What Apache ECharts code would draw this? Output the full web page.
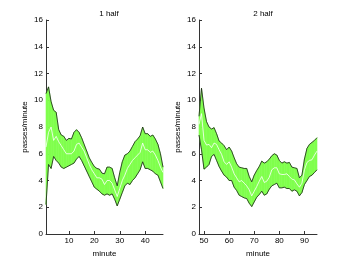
<!DOCTYPE html>
<html><head><meta charset="utf-8">
<script src="https://cdn.jsdelivr.net/npm/echarts@6/dist/echarts.min.js"></script>
<style>html,body{margin:0;padding:0;background:#fff}#c{width:350px;height:264px}</style>
</head><body><div id="c"></div>
<script>
const titles = ['1 half', '2 half'];
const yTicks = [0, 2, 4, 6, 8, 10, 12, 14, 16];
const xTicks1 = [10, 20, 30, 40];
const xTicks2 = [50, 60, 70, 80, 90];
const minutes1 = [1,2,3,4,5,6,7,8,9,10,11,12,13,14,15,16,17,18,19,20,21,22,23,24,25,26,27,28,29,30,31,32,33,34,35,36,37,38,39,40,41,42,43,44,45,46,47];
const upper1 = [10.5,11.0,9.9,9.25,9.1,7.8,7.4,7.3,7.0,7.15,7.1,7.6,7.8,7.6,7.2,6.7,6.2,5.7,5.35,5.05,4.9,4.85,4.55,4.5,5.0,5.0,4.9,4.2,3.6,4.6,5.4,5.9,6.0,6.2,6.55,6.9,7.1,7.35,8.0,7.5,7.5,7.3,7.4,7.1,6.7,6.0,5.0];
const mean1 = [6.5,7.6,8.0,7.0,7.3,6.9,6.6,6.3,6.0,6.0,6.0,6.2,6.7,6.8,6.5,6.2,5.7,5.2,4.8,4.5,4.2,4.2,4.1,3.7,4.0,4.0,3.8,3.3,2.8,3.4,4.0,4.4,4.9,5.2,5.5,5.7,5.9,6.1,6.8,6.3,6.3,6.1,6.2,5.9,5.5,5.0,4.6];
const lower1 = [2.2,5.2,4.9,5.8,5.5,5.3,5.0,4.9,5.0,5.1,5.2,5.3,5.6,5.8,5.5,5.1,4.7,4.3,3.9,3.5,3.35,3.2,3.0,2.9,3.0,2.9,3.0,2.6,2.1,2.6,3.1,3.6,3.8,3.7,4.0,4.2,4.5,4.8,5.4,4.9,4.9,4.8,4.7,4.5,4.4,3.9,3.4];
const minutes2 = [48,49,50,51,52,53,54,55,56,57,58,59,60,61,62,63,64,65,66,67,68,69,70,71,72,73,74,75,76,77,78,79,80,81,82,83,84,85,86,87,88,89,90,91,92,93,94,95];
const upper2 = [8.8,10.9,9.4,8.4,8.0,7.85,7.95,7.5,6.95,6.8,6.6,6.3,6.5,6.2,5.7,5.25,5.0,4.95,4.9,4.9,4.3,3.9,4.4,4.75,5.05,5.45,5.3,5.4,5.6,5.85,6.0,5.9,5.5,5.3,5.4,5.3,5.35,5.0,4.95,4.9,4.2,4.4,5.6,6.4,6.7,6.85,7.0,7.2];
const mean2 = [8.2,9.0,7.0,6.65,6.7,6.45,6.8,6.7,6.3,5.95,5.4,5.2,5.4,5.0,4.5,4.2,3.9,4.0,3.8,3.6,3.3,2.85,3.2,3.55,3.95,4.3,3.85,3.95,4.25,4.8,4.95,4.95,4.5,4.45,4.45,4.5,4.3,4.1,4.05,3.75,3.5,3.8,4.8,5.35,5.5,5.55,5.9,6.2];
const lower2 = [7.4,6.3,4.85,5.0,5.2,5.8,5.95,5.5,5.05,4.7,4.4,4.25,4.0,4.0,3.5,3.25,2.9,2.8,2.7,2.65,2.3,2.05,2.4,2.75,2.95,3.2,2.9,3.0,3.35,3.6,3.7,3.8,3.45,3.45,3.5,3.4,3.4,3.2,3.3,3.2,2.85,3.1,3.7,4.0,4.3,4.4,4.6,4.8];

const FONT = 'Liberation Sans';
const FILL = '#80ff4d';
const EDGE = '#1a1a1a';
const AX = '#333333';

function pairs(xs, ys) { return xs.map((x, i) => [x, ys[i]]); }

function xAxisFor(idx, xs, ticks) {
  return {
    gridIndex: idx, type: 'value', min: xs[0], max: xs[xs.length - 1],
    name: 'minute', nameLocation: 'middle', nameGap: 15,
    nameTextStyle: { fontFamily: FONT, fontSize: 8, color: '#000' },
    axisLine: { show: true, onZero: false, lineStyle: { color: AX, width: 1 } },
    axisTick: { show: true, inside: true, length: 3, customValues: ticks, lineStyle: { color: AX } },
    axisLabel: { customValues: ticks, fontFamily: FONT, fontSize: 8, color: '#000', margin: 3 },
    splitLine: { show: false }
  };
}
function yAxisFor(idx) {
  return {
    gridIndex: idx, type: 'value', min: yTicks[0], max: yTicks[yTicks.length - 1], interval: 2,
    name: 'passes/minute', nameLocation: 'middle', nameGap: 17,
    nameTextStyle: { fontFamily: FONT, fontSize: 8, color: '#000' },
    axisLine: { show: true, onZero: false, lineStyle: { color: AX, width: 1 } },
    axisTick: { show: true, inside: true, length: 3, lineStyle: { color: AX } },
    axisLabel: { fontFamily: FONT, fontSize: 8, color: '#000', margin: 3 },
    splitLine: { show: false }
  };
}
function seriesFor(idx, xs, up, mid, lo) {
  const band = xs.map((x, i) => [x, up[i], lo[i]]);
  return [
    {
      type: 'custom', xAxisIndex: idx, yAxisIndex: idx, data: band, silent: true, z: 1,
      encode: { x: 0, y: [1, 2] },
      renderItem: function (params, api) {
        const i = params.dataIndex;
        if (i >= band.length - 1) return null;
        const a = band[i], b = band[i + 1];
        const pts = [api.coord([a[0], a[1]]), api.coord([b[0], b[1]]), api.coord([b[0], b[2]]), api.coord([a[0], a[2]])];
        return { type: 'polygon', shape: { points: pts }, style: { fill: FILL, stroke: FILL, lineWidth: 0.6 } };
      }
    },
    { type: 'line', xAxisIndex: idx, yAxisIndex: idx, data: pairs(xs, up), symbol: 'none', lineStyle: { color: EDGE, width: 0.8 }, z: 2 },
    { type: 'line', xAxisIndex: idx, yAxisIndex: idx, data: pairs(xs, lo), symbol: 'none', lineStyle: { color: EDGE, width: 0.8 }, z: 2 },
    { type: 'line', xAxisIndex: idx, yAxisIndex: idx, data: pairs(xs, mid), symbol: 'none', lineStyle: { color: '#ffffff', width: 0.8 }, z: 3 }
  ];
}

const chart = echarts.init(document.getElementById('c'), null, { renderer: 'canvas' });
chart.setOption({
  animation: false,
  backgroundColor: '#fff',
  title: [
    { text: titles[0], left: 104, top: 5, textAlign: 'center', textStyle: { fontFamily: FONT, fontSize: 8, fontWeight: 'normal', color: '#000' } },
    { text: titles[1], left: 258, top: 5, textAlign: 'center', textStyle: { fontFamily: FONT, fontSize: 8, fontWeight: 'normal', color: '#000' } }
  ],
  grid: [
    { left: 46, top: 20, width: 117, height: 214 },
    { left: 199, top: 20, width: 118, height: 214 }
  ],
  xAxis: [xAxisFor(0, minutes1, xTicks1), xAxisFor(1, minutes2, xTicks2)],
  yAxis: [yAxisFor(0), yAxisFor(1)],
  series: [].concat(seriesFor(0, minutes1, upper1, mean1, lower1), seriesFor(1, minutes2, upper2, mean2, lower2))
});
</script>
</body></html>
